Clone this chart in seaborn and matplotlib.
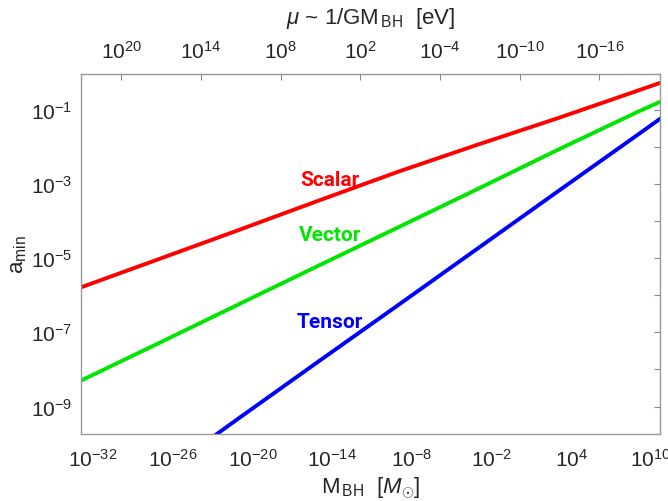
import numpy as np
import pandas as pd
import matplotlib
matplotlib.use("Agg")
import matplotlib.pyplot as plt
import seaborn as sns

# values (log-log)
mass_sv = [1e-33, 1e-27, 1e-21, 1e-15, 1e-9, 1e-3, 1e3, 1e9, 1e11]
scalar = [1.58e-6, 9.5e-6, 5.75e-5, 3.55e-4, 2.14e-3, 1.15e-2, 5.9e-2, 0.324, 0.575]
vector = [4.8e-9, 5.2e-8, 5.75e-7, 6.3e-6, 6.8e-5, 7.4e-4, 8.3e-3, 8.7e-2, 0.182]
mass_t = [1e-23, 1e-21, 1e-15, 1e-9, 1e-3, 1e3, 1e9, 1e11]
tensor = [1.5e-10, 4.9e-10, 1.66e-8, 5.5e-7, 1.86e-5, 6.3e-4, 2.1e-2, 6.8e-2]

labels = ["Scalar", "Vector", "Tensor"]
colors = ["#ff0000", "#00e600", "#0000ff"]
label_pos = [(7e-15, 1.3e-3), (7e-15, 4.2e-5), (7e-15, 2.0e-7)]

bottom_ticks = [1e-32, 1e-26, 1e-20, 1e-14, 1e-8, 1e-2, 1e4, 1e10]
top_ticks = [1e20, 1e14, 1e8, 1e2, 1e-4, 1e-10, 1e-16]
y_major = [1e-9, 1e-7, 1e-5, 1e-3, 1e-1]
y_minor = [1e-8, 1e-6, 1e-4, 1e-2]

df = pd.concat([
    pd.DataFrame({"M": mass_sv, "a": scalar, "kind": "Scalar"}),
    pd.DataFrame({"M": mass_sv, "a": vector, "kind": "Vector"}),
    pd.DataFrame({"M": mass_t, "a": tensor, "kind": "Tensor"}),
])

sns.set_style("white")
plt.rcParams["font.family"] = ["Liberation Sans", "DejaVu Sans"]
plt.rcParams["mathtext.fontset"] = "custom"
plt.rcParams["mathtext.rm"] = "Liberation Sans"
plt.rcParams["mathtext.it"] = "Liberation Sans:italic"

fig = plt.figure(figsize=(6.68, 5.02), dpi=100)
ax = fig.add_axes([0.1213, 0.1335, 0.8667, 0.7171])

sns.lineplot(data=df, x="M", y="a", hue="kind", palette=dict(zip(labels, colors)),
             estimator=None, sort=False, lw=2.8, legend=False, ax=ax)

ax.set_xscale("log")
ax.set_yscale("log")
ax.set_xlim(10**-32.9, 10**10.68)
ax.set_ylim(10**-9.74, 10**-0.04)

for lab, c, (x, y) in zip(labels, colors, label_pos):
    ax.text(x, y, lab, color=c, fontsize=15, fontweight="bold",
            family="Roboto", ha="center", va="center")

ax.set_xticks(bottom_ticks)
ax.xaxis.set_minor_locator(matplotlib.ticker.NullLocator())
ax.set_yticks(y_major)
ax.set_yticks(y_minor, minor=True)
ax.yaxis.set_minor_formatter(matplotlib.ticker.NullFormatter())
ax.tick_params(axis="both", which="both", direction="in", length=4.5,
               width=0.8, color="#888888", labelsize=15, top=False,
               right=True, pad=6)
ax.tick_params(axis="x", pad=10)

for s in ax.spines.values():
    s.set_color("#999999")
    s.set_linewidth(1.0)

ax.set_xlabel(r"M$_{\,\mathrm{BH}}$  [$\it{M}_{\odot}$]", fontsize=16, labelpad=3)
ax.set_ylabel(r"a$_{\mathrm{min}}$", fontsize=16)
ax.yaxis.set_label_coords(-0.09, 0.5)


def m_to_mu(m):
    m = np.asarray(m, dtype=float)
    with np.errstate(divide="ignore", invalid="ignore"):
        return 1.33e-10 / m


sec = ax.secondary_xaxis("top", functions=(m_to_mu, m_to_mu))
sec.set_xticks(top_ticks)
sec.xaxis.set_minor_locator(matplotlib.ticker.NullLocator())
sec.tick_params(direction="in", length=4.5, width=0.8, color="#888888",
                labelsize=15, pad=9)
sec.spines["top"].set_color("#999999")
sec.set_xlabel(r"$\mu$ ~ 1/GM$_{\,\mathrm{BH}}$  [eV]", fontsize=16, labelpad=12)

fig.savefig("out.png", dpi=100)
